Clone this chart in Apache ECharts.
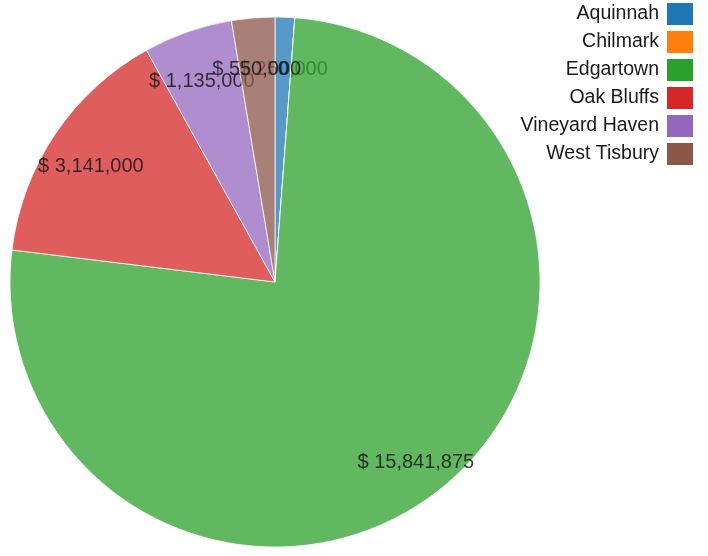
<!DOCTYPE html>
<html>
<head>
<meta charset="utf-8">
<script src="https://cdn.jsdelivr.net/npm/echarts@6/dist/echarts.min.js"></script>
<style>
html,body{margin:0;padding:0;background:#fff;}
#chart{width:708px;height:556px;}
</style>
</head>
<body>
<div id="chart"></div>
<script>
const towns = ['Aquinnah', 'Chilmark', 'Edgartown', 'Oak Bluffs', 'Vineyard Haven', 'West Tisbury'];
const amounts = [250000, 0, 15841875, 3141000, 1135000, 550000];
const townColors = ['#1f77b4', '#ff7f0e', '#2ca02c', '#d62728', '#9467bd', '#8c564b'];

const FONT = '"Liberation Sans", Arial, sans-serif';
const total = amounts.reduce((a, b) => a + b, 0);
const fmt = v => '$ ' + v.toLocaleString('en-US');
const CENTER = [275, 282];

// Draw each slice followed by its label, so later slices cover earlier labels.
const series = [];
let cum = 0;
towns.forEach((town, i) => {
  const v = amounts[i];
  series.push({
    type: 'pie',
    center: CENTER,
    radius: [0, 265],
    startAngle: 90,
    clockwise: true,
    silent: true,
    avoidLabelOverlap: false,
    label: { show: false },
    labelLine: { show: false },
    emphasis: { disabled: true },
    z: 2 + 2 * i,
    data: towns.map((t, j) => ({
      name: t,
      value: amounts[j],
      itemStyle: j === i
        ? { color: townColors[j], opacity: 0.75, borderColor: '#fff', borderWidth: 1 }
        : { color: 'rgba(0,0,0,0)', borderWidth: 0 }
    }))
  });
  if (v > 0) {
    series.push({
      type: 'scatter',
      coordinateSystem: 'polar',
      silent: true,
      symbolSize: 1,
      itemStyle: { color: 'rgba(0,0,0,0)' },
      z: 3 + 2 * i,
      label: {
        show: true,
        position: 'inside',
        formatter: () => fmt(v),
        fontFamily: FONT,
        fontSize: 20,
        color: '#111'
      },
      labelLayout: { hideOverlap: false, dy: 9 },
      emphasis: { disabled: true },
      data: [[1, cum + v / 2]]
    });
  }
  cum += v;
});

const chart = echarts.init(document.getElementById('chart'), null, { renderer: 'canvas' });
chart.setOption({
  animation: false,
  color: townColors,
  legend: {
    orient: 'vertical',
    right: 15,
    top: 3,
    padding: 0,
    align: 'right',
    icon: 'rect',
    itemWidth: 26,
    itemHeight: 22,
    itemGap: 6,
    selectedMode: false,
    data: towns.map((t, i) => ({ name: t, itemStyle: { color: townColors[i], opacity: 1, borderWidth: 0 } })),
    textStyle: { fontFamily: FONT, fontSize: 19.5, lineHeight: 22, color: '#1a1a1a', padding: [0, 3, 0, 0] }
  },
  polar: { center: CENTER, radius: 222 },
  angleAxis: { type: 'value', min: 0, max: total, startAngle: 90, clockwise: true, show: false },
  radiusAxis: { type: 'value', min: 0, max: 1, show: false },
  series: series
});
</script>
</body>
</html>
